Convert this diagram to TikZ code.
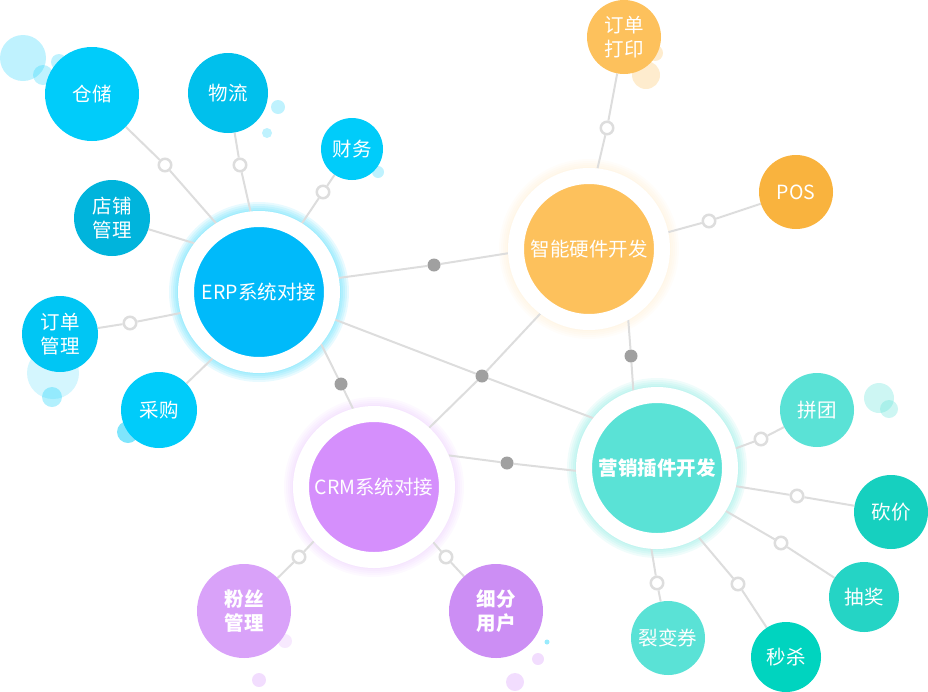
\documentclass[tikz,border=0pt]{standalone}
\usepackage{fontspec}
\newfontfamily\cjk{Noto Sans CJK SC}
\usetikzlibrary{backgrounds}

\definecolor{erpblue}{RGB}{0,186,250}
\definecolor{cyanA}{RGB}{0,204,250}
\definecolor{cyanB}{RGB}{0,192,236}
\definecolor{cyanC}{RGB}{0,180,220}
\definecolor{cyanD}{RGB}{0,198,244}
\definecolor{znorange}{RGB}{253,193,92}
\definecolor{posorange}{RGB}{249,179,62}
\definecolor{crmpurple}{RGB}{213,143,252}
\definecolor{fensipurple}{RGB}{217,162,249}
\definecolor{xifenpurple}{RGB}{204,142,244}
\definecolor{yxteal}{RGB}{90,226,214}
\definecolor{tealB}{RGB}{22,208,191}
\definecolor{tealC}{RGB}{37,212,197}
\definecolor{tealD}{RGB}{0,212,191}
\definecolor{linegray}{RGB}{221,221,221}
\definecolor{dotgray}{RGB}{160,160,160}

\tikzset{
  sat/.style={circle, inner sep=0pt, text=white, align=center, font=\cjk\fontsize{19.5}{24}\selectfont},
  bold/.style={font=\cjk\bfseries\fontsize{19.5}{24}\selectfont},
  hubring/.style={circle, draw=white, line width=16pt, minimum size=146pt, inner sep=0pt, text=white, font=\cjk\fontsize{19.5}{24}\selectfont},
  hollow/.style={circle, draw=linegray, fill=white, line width=2.5pt, minimum size=12.5pt, inner sep=0pt},
  graydot/.style={circle, fill=dotgray, minimum size=13pt, inner sep=0pt},
  link/.style={draw=linegray, line width=2pt},
}

\begin{document}
\begin{tikzpicture}[x=1pt,y=-1pt]
  \useasboundingbox (0,0) rectangle (928,691);

  %%%%% main circles %%%%%
  \node[hubring, fill=erpblue] (erp) at (259,292) {ERP系统对接};
  \node[hubring, fill=znorange] (zhineng) at (589,249) {智能硬件开发};
  \node[hubring, fill=crmpurple] (crm) at (374,487) {CRM系统对接};
  \node[hubring, bold, fill=yxteal] (yingxiao) at (657,468) {营销插件开发};

  %%%%% satellites %%%%%
  \node[sat, fill=cyanA, minimum size=94pt] (cangchu) at (92,94) {仓储};
  \node[sat, fill=cyanB, minimum size=80pt] (wuliu) at (228,93) {物流};
  \node[sat, fill=cyanA, minimum size=62pt] (caiwu) at (352,149) {财务};
  \node[sat, fill=cyanC, minimum size=76pt] (dianpu) at (112,218) {店铺\\管理};
  \node[sat, fill=cyanD, minimum size=76pt] (dingdan) at (60,334) {订单\\管理};
  \node[sat, fill=cyanA, minimum size=76pt] (caigou) at (159,410) {采购};

  \node[sat, fill=znorange, minimum size=74pt] (dayin) at (624,37) {订单\\打印};
  \node[sat, fill=posorange, minimum size=74pt] (pos) at (796,192) {POS};

  \node[sat, bold, fill=fensipurple, minimum size=94pt] (fensi) at (244,611) {粉丝\\管理};
  \node[sat, bold, fill=xifenpurple, minimum size=94pt] (xifen) at (496,611) {细分\\用户};

  \node[sat, fill=yxteal, minimum size=74pt] (pintuan) at (817,410) {拼团};
  \node[sat, fill=tealB, minimum size=74pt] (kanjia) at (891,512) {砍价};
  \node[sat, fill=tealC, minimum size=70pt] (choujiang) at (864,597) {抽奖};
  \node[sat, fill=tealD, minimum size=70pt] (miaosha) at (786,657) {秒杀};
  \node[sat, fill=yxteal, minimum size=74pt] (liebian) at (668,638) {裂变券};

  %%%%% dots %%%%%
  \node[hollow] (h-cangchu) at (165,165) {};
  \node[hollow] (h-wuliu) at (240,165) {};
  \node[hollow] (h-caiwu) at (323,192) {};
  \node[hollow] (h-dingdan) at (130,323) {};
  \node[hollow] (h-dayin) at (607,128) {};
  \node[hollow] (h-pos) at (709,221) {};
  \node[hollow] (h-fensi) at (299,557) {};
  \node[hollow] (h-xifen) at (446,557) {};
  \node[hollow] (h-pintuan) at (761,439) {};
  \node[hollow] (h-kanjia) at (797,496) {};
  \node[hollow] (h-choujiang) at (781,543) {};
  \node[hollow] (h-miaosha) at (738,584) {};
  \node[hollow] (h-liebian) at (657,583) {};

  \node[graydot] (g-zn) at (434,265) {};
  \node[graydot] (g-crm) at (341,384) {};
  \node[graydot] (hub) at (482,376) {};
  \node[graydot] (g-yx) at (631,356) {};
  \node[graydot] (g-cy) at (507,463) {};

  \begin{scope}[on background layer]
    % glow round the rings
    \foreach \r in {82,84,...,90} {
      \fill[cyanA, opacity=0.09] (erp.center) circle (\r);
      \fill[yxteal, opacity=0.09] (yingxiao.center) circle (\r);
      \fill[crmpurple, opacity=0.05] (crm.center) circle (\r);
      \fill[znorange, opacity=0.03] (zhineng.center) circle (\r);
    }

    % bubbles
    \fill[cyanA, opacity=0.25] (23,58) circle (23);
    \fill[cyanA, opacity=0.25] (59,62) circle (8);
    \fill[cyanA, opacity=0.25] (43,75) circle (10);
    \fill[cyanA, opacity=0.25] (278,107) circle (7);
    \fill[cyanA, opacity=0.25] (267,133) circle (5);
    \fill[cyanA, opacity=0.25] (378,172) circle (6);
    \fill[cyanA, opacity=0.17] (53,373) circle (26);
    \fill[cyanA, opacity=0.3] (52,397) circle (10);
    \fill[cyanA, opacity=0.5] (128,432) circle (11);
    \fill[znorange, opacity=0.3] (646,75) circle (14);
    \fill[znorange, opacity=0.3] (655,53) circle (8);
    \fill[crmpurple, opacity=0.2] (285,641) circle (7);
    \fill[crmpurple, opacity=0.3] (259,680) circle (7);
    \fill[crmpurple, opacity=0.3] (538,659) circle (6);
    \fill[crmpurple, opacity=0.3] (515,682) circle (9);
    \fill[cyanA, opacity=0.4] (547,642) circle (2.5);
    \fill[yxteal, opacity=0.3] (879,398) circle (15);
    \fill[yxteal, opacity=0.3] (889,409) circle (9);

    % links
    \draw[link] (erp.122) -- (h-cangchu) -- (cangchu);
    \draw[link] (erp.96) -- (h-wuliu) -- (wuliu);
    \draw[link] (erp.58) -- (h-caiwu) -- (caiwu);
    \draw[link] (erp.143) -- (dianpu);
    \draw[link] (erp.195) -- (h-dingdan) -- (dingdan);
    \draw[link] (erp.-125) -- (caigou);
    \draw[link] (erp.10) -- (g-zn) -- (zhineng.183);
    \draw[link] (erp.-40) -- (g-crm) -- (crm.105);
    \draw[link] (erp.-20) -- (hub) -- (yingxiao.142);
    \draw[link] (zhineng.-127) -- (hub) -- (crm.47);
    \draw[link] (zhineng.84) -- (h-dayin) -- (dayin);
    \draw[link] (zhineng.12) -- (h-pos) -- (pos);
    \draw[link] (zhineng.-61) -- (g-yx) -- (yingxiao.107);
    \draw[link] (crm.23) -- (g-cy) -- (yingxiao.182);
    \draw[link] (crm.-138) -- (h-fensi) -- (fensi);
    \draw[link] (crm.-43) -- (h-xifen) -- (xifen);
    \draw[link] (yingxiao.14) -- (h-pintuan) -- (pintuan);
    \draw[link] (yingxiao.-13) -- (h-kanjia) -- (kanjia);
    \draw[link] (yingxiao.-32) -- (h-choujiang) -- (choujiang);
    \draw[link] (yingxiao.-59) -- (h-miaosha) -- (miaosha);
    \draw[link] (yingxiao.-94) -- (h-liebian) -- (liebian);
  \end{scope}
\end{tikzpicture}
\end{document}
